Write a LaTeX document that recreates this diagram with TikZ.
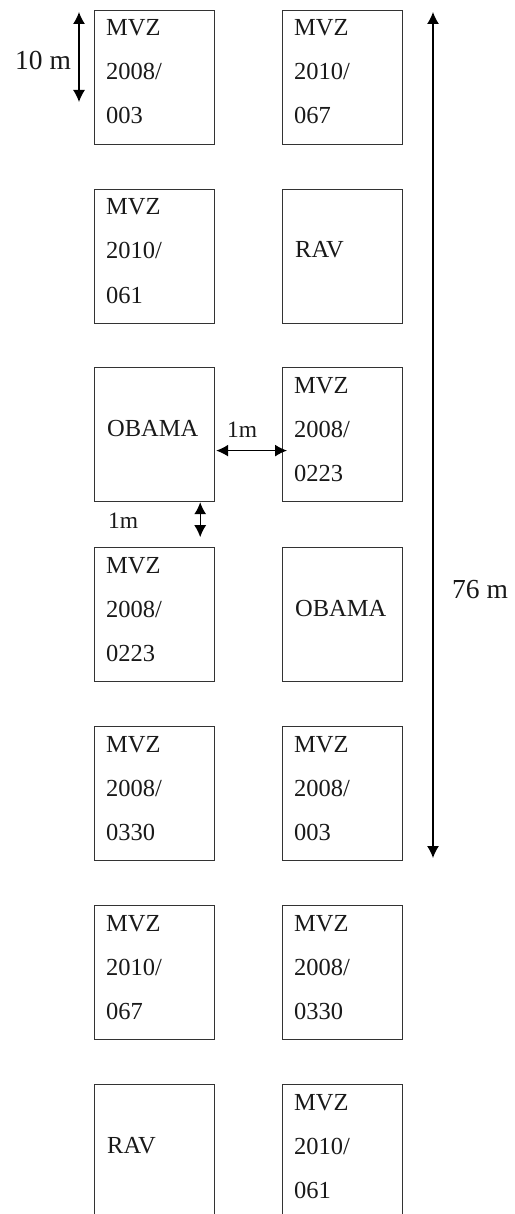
\documentclass[tikz,border=0pt]{standalone}
\usepackage{fontspec}
\setmainfont{Liberation Serif}
\usetikzlibrary{arrows.meta,calc}
\tikzset{
  plot/.style={draw=black!80,line width=1.2pt,minimum width=120pt,minimum height=134pt,inner sep=0pt,anchor=north west},
  lbl/.style={anchor=base west,inner sep=0pt,text=black!90,font=\fontsize{24.5}{29}\selectfont},
  dimlbl/.style={anchor=base west,inner sep=0pt,text=black!90,font=\fontsize{27.5}{32}\selectfont},
  smalllbl/.style={anchor=base west,inner sep=0pt,text=black!90,font=\fontsize{23.5}{28}\selectfont},
  dimline/.style={line width=1.3pt,{Latex[length=12pt,width=12pt]}-{Latex[length=12pt,width=12pt]}}
}
\newcommand\plotthree[6]{%
  \node[plot] (#1) at (#2,#3) {};
  \node[lbl] (#1-a) at ($(#1.north west)+(12,26)$) {#4};
  \node[lbl] (#1-b) at ($(#1.north west)+(12,70)$) {#5};
  \node[lbl] (#1-c) at ($(#1.north west)+(12,114)$) {#6};
}
\newcommand\plotone[4]{%
  \node[plot] (#1) at (#2,#3) {};
  \node[lbl] (#1-b) at ($(#1.north west)+(13,69)$) {#4};
}
\begin{document}
\begin{tikzpicture}[x=1pt,y=-1pt]
\useasboundingbox (0,0) rectangle (514,1214);
% left column
\plotthree{l1}{94}{10}{MVZ}{2008/}{003}
\plotthree{l2}{94}{189}{MVZ}{2010/}{061}
\plotone{l3}{94}{367}{OBAMA}
\plotthree{l4}{94}{547}{MVZ}{2008/}{0223}
\plotthree{l5}{94}{726}{MVZ}{2008/}{0330}
\plotthree{l6}{94}{905}{MVZ}{2010/}{067}
\plotone{l7}{94}{1084}{RAV}
% right column
\plotthree{r1}{282}{10}{MVZ}{2010/}{067}
\plotone{r2}{282}{189}{RAV}
\plotthree{r3}{282}{367}{MVZ}{2008/}{0223}
\plotone{r4}{282}{547}{OBAMA}
\plotthree{r5}{282}{726}{MVZ}{2008/}{003}
\plotthree{r6}{282}{905}{MVZ}{2008/}{0330}
\plotthree{r7}{282}{1084}{MVZ}{2010/}{061}
% dimensions
\coordinate (t10) at (79,12);
\coordinate (b10) at (79,102);
\draw[dimline] (t10) -- (b10);
\node[dimlbl] (lab10) at (15,70) {10 m};
\coordinate (t76) at (433,12);
\coordinate (b76) at (433,858);
\draw[dimline] (t76) -- (b76);
\node[dimlbl] (lab76) at (452,598) {76 m};
\draw[dimline] ($(l3.east)+(1,16)$) -- ($(r3.west)+(5,16)$);
\node[smalllbl] (lab1h) at (227,437) {1m};
\draw[dimline] ($(l3.south east)+(-15,0)$) -- ($(l3.south east)+(-15,35)$);
\node[smalllbl] (lab1v) at (108,528) {1m};
\end{tikzpicture}
\end{document}
